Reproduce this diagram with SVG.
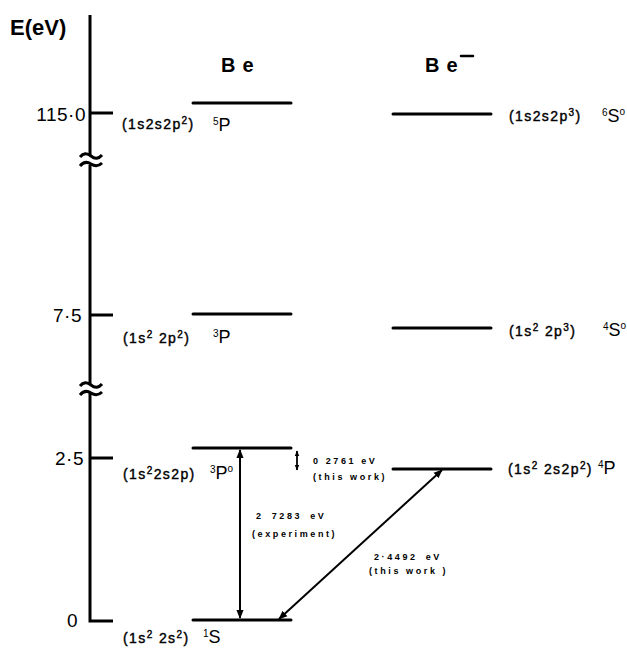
<svg xmlns="http://www.w3.org/2000/svg" width="627" height="648" viewBox="0 0 627 648">
<defs>
<style>
text{font-family:"Liberation Sans",Arial,sans-serif;fill:#000}
.lv{stroke:#000;stroke-width:3;fill:none;stroke-linecap:round}
.ax{stroke:#000;stroke-width:3;fill:none}
.num{font-size:19px;text-anchor:end;letter-spacing:0.5px}
.cfg{font-size:14px;letter-spacing:1.4px;stroke:#000;stroke-width:0.4px}
.term{font-size:18px}
.sm{font-size:9px;font-weight:bold;letter-spacing:2.6px}
.arr{stroke:#000;stroke-width:2;fill:none}
</style>
<marker id="ah" viewBox="0 0 10 10" refX="9" refY="5" markerWidth="9" markerHeight="9" markerUnits="userSpaceOnUse" orient="auto-start-reverse">
<path d="M0,1 L10,5 L0,9 Z" fill="#000"/>
</marker>
<marker id="ahs" viewBox="0 0 10 10" refX="9" refY="5" markerWidth="6" markerHeight="6" markerUnits="userSpaceOnUse" orient="auto-start-reverse">
<path d="M0,1 L10,5 L0,9 Z" fill="#000"/>
</marker>
</defs>
<rect width="627" height="648" fill="#fff"/>

<g id="axis">
<text x="10" y="35" style="font-size:22px;font-weight:bold">E(eV)</text>
<path class="ax" d="M90,15 V155"/>
<path class="ax" d="M80,157 Q85,151 91,156 Q97,161 102,155"/>
<path class="ax" d="M80,166 Q85,160 91,164 Q97,168 102,163"/>
<path class="ax" d="M90,165 V384"/>
<path class="ax" d="M80,386 Q85,380 91,385 Q97,390 102,384"/>
<path class="ax" d="M80,395 Q85,389 91,393 Q97,397 102,392"/>
<path class="ax" d="M90,393 V621 H113"/>
<path class="ax" d="M90,113 H113"/>
<path class="ax" d="M90,315 H113"/>
<path class="ax" d="M90,458 H113"/>
<text class="num" x="86" y="121">115·0</text>
<text class="num" x="82" y="322">7·5</text>
<text class="num" x="84" y="465">2·5</text>
<text class="num" x="78" y="627">0</text>
</g>

<g id="titles">
<text x="221" y="72" style="font-size:20px;font-weight:bold;letter-spacing:7px">Be</text>
<text x="425" y="72" style="font-size:20px;font-weight:bold;letter-spacing:7px">Be</text>
<path class="lv" d="M461,56 H473" style="stroke-width:2.5"/>
</g>

<g id="Be-5P">
<path class="lv" d="M193,103 H291"/>
<text class="cfg" x="122" y="129">(1s2s2p<tspan dy="-5" font-size="10">2</tspan><tspan dy="5">)</tspan></text>
<text class="term" x="213" y="131"><tspan font-size="10" dy="-6">5</tspan><tspan dy="6">P</tspan></text>
</g>

<g id="Be-3P">
<path class="lv" d="M193,314 H291"/>
<text class="cfg" x="123" y="343">(1s<tspan dy="-5" font-size="10">2</tspan><tspan dy="5"> 2p</tspan><tspan dy="-5" font-size="10">2</tspan><tspan dy="5">)</tspan></text>
<text class="term" x="213" y="343"><tspan font-size="10" dy="-6">3</tspan><tspan dy="6">P</tspan></text>
</g>

<g id="Be-3Po">
<path class="lv" d="M193,448 H291"/>
<text class="cfg" x="123" y="479">(1s<tspan dy="-5" font-size="10">2</tspan><tspan dy="5">2s2p)</tspan></text>
<text class="term" x="210" y="479"><tspan font-size="10" dy="-6">3</tspan><tspan dy="6">P</tspan><tspan font-size="10" dy="-7">o</tspan></text>
</g>

<g id="Be-1S">
<path class="lv" d="M193,620 H291"/>
<text class="cfg" x="123" y="643">(1s<tspan dy="-5" font-size="10">2</tspan><tspan dy="5"> 2s</tspan><tspan dy="-5" font-size="10">2</tspan><tspan dy="5">)</tspan></text>
<text class="term" x="203" y="643"><tspan font-size="10" dy="-6">1</tspan><tspan dy="6">S</tspan></text>
</g>

<g id="Beminus-6So">
<path class="lv" d="M393,114 H491"/>
<text class="cfg" x="509" y="121">(1s2s2p<tspan dy="-5" font-size="10">3</tspan><tspan dy="5">)</tspan></text>
<text class="term" x="602" y="122"><tspan font-size="10" dy="-6">6</tspan><tspan dy="6">S</tspan><tspan font-size="10" dy="-7">o</tspan></text>
</g>

<g id="Beminus-4So">
<path class="lv" d="M393,328 H491"/>
<text class="cfg" x="509" y="336">(1s<tspan dy="-5" font-size="10">2</tspan><tspan dy="5"> 2p</tspan><tspan dy="-5" font-size="10">3</tspan><tspan dy="5">)</tspan></text>
<text class="term" x="603" y="336"><tspan font-size="10" dy="-6">4</tspan><tspan dy="6">S</tspan><tspan font-size="10" dy="-7">o</tspan></text>
</g>

<g id="Beminus-4P">
<path class="lv" d="M393,469 H491"/>
<text class="cfg" x="508" y="474">(1s<tspan dy="-5" font-size="10">2</tspan><tspan dy="5"> 2s2p</tspan><tspan dy="-5" font-size="10">2</tspan><tspan dy="5">)</tspan></text>
<text class="term" x="598" y="474"><tspan font-size="10" dy="-6">4</tspan><tspan dy="6">P</tspan></text>
</g>

<g id="connectors">
<path class="arr" d="M240,450 V618" marker-start="url(#ah)" marker-end="url(#ah)"/>
<path class="arr" d="M297,451 V470" marker-start="url(#ahs)" marker-end="url(#ahs)" style="stroke-width:1.8"/>
<path class="arr" d="M442,470 L279,619" marker-start="url(#ah)" marker-end="url(#ah)"/>
<text class="sm" x="313" y="464">0 2761 eV</text>
<text class="sm" x="313" y="480">(this work)</text>
<text class="sm" x="256" y="519" style="word-spacing:3px">2 7283 eV</text>
<text class="sm" x="252" y="537">(experiment)</text>
<text class="sm" x="374" y="560" style="word-spacing:3px">2·4492 eV</text>
<text class="sm" x="369" y="574">(this work )</text>
</g>
</svg>
